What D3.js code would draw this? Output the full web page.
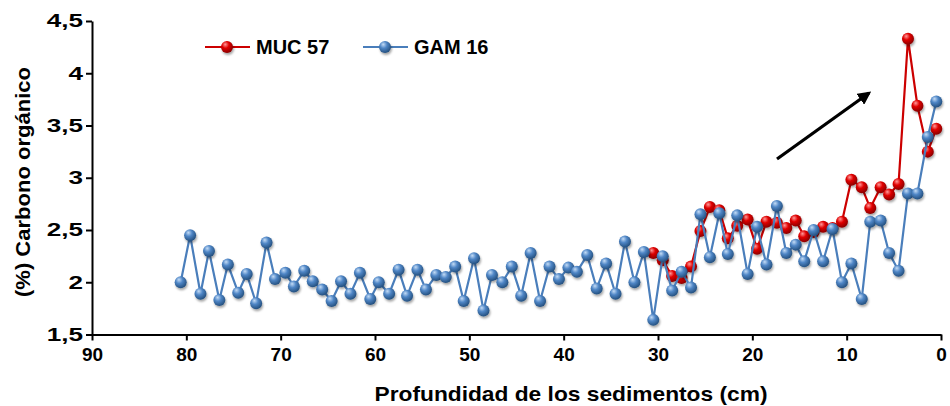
<!DOCTYPE html>
<html>
<head>
<meta charset="utf-8">
<script src="https://cdn.jsdelivr.net/npm/d3@7"></script>
<style>
  html, body { margin: 0; padding: 0; background: #fff; }
  svg { display: block; }
  text { font-family: "Liberation Sans", Arial, sans-serif; font-weight: bold; fill: #000; }
</style>
</head>
<body>
<svg id="chart" width="950" height="406"></svg>
<script>
// Sample depths (cm), shared by both cores
const depths = [
  80.6, 79.6, 78.5, 77.6, 76.5, 75.6, 74.5, 73.6, 72.6, 71.5,
  70.6, 69.5, 68.6, 67.5, 66.6, 65.6, 64.6, 63.6, 62.6, 61.6,
  60.5, 59.6, 58.5, 57.5, 56.6, 55.5, 54.6, 53.5, 52.5, 51.5,
  50.6, 49.5, 48.5, 47.6, 46.5, 45.5, 44.5, 43.5, 42.5, 41.5,
  40.5, 39.5, 38.6, 37.5, 36.5, 35.5, 34.5, 33.5, 32.5, 31.5,
  30.5, 29.5, 28.5, 27.5, 26.5, 25.5, 24.5, 23.5, 22.6, 21.6,
  20.5, 19.5, 18.5, 17.4, 16.4, 15.4, 14.5, 13.5, 12.5, 11.5,
  10.5, 9.5, 8.4, 7.5, 6.4, 5.5, 4.5, 3.5, 2.5, 1.4,
  0.5
];

// GAM 16 organic carbon (%)
const gam16 = [
  2.00, 2.45, 1.89, 2.30, 1.83, 2.17, 1.90, 2.08, 1.80, 2.38,
  2.03, 2.09, 1.96, 2.11, 2.01, 1.93, 1.82, 2.01, 1.89, 2.09,
  1.84, 2.00, 1.89, 2.12, 1.87, 2.12, 1.93, 2.07, 2.05, 2.15,
  1.82, 2.23, 1.73, 2.07, 2.00, 2.15, 1.87, 2.28, 1.82, 2.15,
  2.03, 2.14, 2.10, 2.26, 1.94, 2.18, 1.89, 2.39, 2.00, 2.29,
  1.64, 2.25, 1.92, 2.10, 1.95, 2.65, 2.24, 2.66, 2.27, 2.64,
  2.08, 2.53, 2.17, 2.73, 2.28, 2.36, 2.20, 2.50, 2.20, 2.51,
  2.00, 2.18, 1.84, 2.58, 2.59, 2.28, 2.11, 2.85, 2.85, 3.39,
  3.73
];

// MUC 57 organic carbon (%), upper 31 samples
const muc57 = [
  2.28, 2.21, 2.06, 2.04, 2.15, 2.49, 2.72, 2.69, 2.42, 2.54,
  2.60, 2.32, 2.58, 2.57, 2.52, 2.59, 2.44, 2.48, 2.53, 2.52,
  2.58, 2.98, 2.91, 2.71, 2.91, 2.84, 2.94, 4.33, 3.69, 3.25,
  3.47
];

const seriesNames = ["MUC 57", "GAM 16"];
const xTicks = [90, 80, 70, 60, 50, 40, 30, 20, 10, 0];
const yTicks = [1.5, 2, 2.5, 3, 3.5, 4, 4.5];

const xTitle = "Profundidad de los sedimentos (cm)";
const yTitle = "(%) Carbono orgánico";

const svg = d3.select("#chart");

const x = d3.scaleLinear().domain([90, 0]).range([92, 941]);
const y = d3.scaleLinear().domain([1.5, 4.5]).range([334.5, 21]);

// Shaded sphere gradients and soft shadow for markers
const defs = svg.append("defs");
function sphere(id, light, mid, dark) {
  const g = defs.append("radialGradient").attr("id", id)
    .attr("cx", "0.4").attr("cy", "0.35").attr("r", "0.65").attr("fx", "0.35").attr("fy", "0.28");
  g.append("stop").attr("offset", "0").attr("stop-color", light);
  g.append("stop").attr("offset", "0.45").attr("stop-color", mid);
  g.append("stop").attr("offset", "1").attr("stop-color", dark);
}
sphere("ballRed", "#ff9a9a", "#e00000", "#8a0000");
sphere("ballBlue", "#c4dcf6", "#4f86c6", "#24507f");
const sh = defs.append("filter").attr("id", "shadow")
  .attr("x", "-50%").attr("y", "-50%").attr("width", "200%").attr("height", "200%");
sh.append("feDropShadow").attr("dx", 1).attr("dy", 2).attr("stdDeviation", 1.3)
  .attr("flood-color", "#000").attr("flood-opacity", 0.35);

// Axes
const xAxis = d3.axisBottom(x).tickValues(xTicks).tickSize(6).tickSizeOuter(0)
  .tickFormat(d => String(d));
const gx = svg.append("g").attr("transform", `translate(0,${y(1.5)})`).call(xAxis);
gx.select(".domain").attr("stroke", "#000").attr("stroke-width", 2);
gx.selectAll(".tick line").attr("stroke", "#000").attr("stroke-width", 2);
gx.selectAll(".tick text").attr("y", 13).attr("dy", "0.71em")
  .style("font-size", "19px").style("font-family", "'Liberation Sans', Arial, sans-serif")
  .style("font-weight", "bold").attr("fill", "#000");

const yAxis = d3.axisLeft(y).tickValues(yTicks).tickSize(6).tickSizeOuter(0)
  .tickFormat(d => String(d).replace(".", ","));
const gy = svg.append("g").attr("transform", `translate(${x(90)},0)`).call(yAxis);
gy.select(".domain").attr("stroke", "#000").attr("stroke-width", 2);
gy.selectAll(".tick line").attr("stroke", "#000").attr("stroke-width", 2);
gy.selectAll(".tick text").attr("x", -9)
  .style("font-size", "18px").style("font-family", "'Liberation Sans', Arial, sans-serif")
  .style("font-weight", "bold").attr("fill", "#000")
  .each(function () {
    const w = this.getComputedTextLength();
    d3.select(this).attr("textLength", w * 1.45).attr("lengthAdjust", "spacingAndGlyphs");
  });

// Axis titles
svg.append("text").attr("x", 571).attr("y", 401).attr("text-anchor", "middle")
  .style("font-size", "21px").attr("textLength", 393).attr("lengthAdjust", "spacingAndGlyphs")
  .text(xTitle);
svg.append("text").attr("transform", "translate(30,182) rotate(-90)").attr("text-anchor", "middle")
  .style("font-size", "20px").attr("textLength", 230).attr("lengthAdjust", "spacingAndGlyphs")
  .text(yTitle);

// Series
const mucDepths = depths.slice(depths.length - muc57.length);
const series = [
  { name: seriesNames[0], color: "#cc0000", fill: "url(#ballRed)",
    pts: muc57.map((v, i) => [mucDepths[i], v]) },
  { name: seriesNames[1], color: "#4a7ebb", fill: "url(#ballBlue)",
    pts: gam16.map((v, i) => [depths[i], v]) }
];

const line = d3.line().x(d => x(d[0])).y(d => y(d[1]));

series.forEach(s => {
  const g = svg.append("g");
  g.append("path").attr("d", line(s.pts)).attr("fill", "none")
    .attr("stroke", s.color).attr("stroke-width", 2.2).attr("stroke-linejoin", "round");
  g.selectAll("circle").data(s.pts).join("circle")
    .attr("cx", d => x(d[0])).attr("cy", d => y(d[1])).attr("r", 6)
    .attr("fill", s.fill).attr("filter", "url(#shadow)");
});

// Legend
const legend = svg.append("g");
const legendX = [205, 363];
series.forEach((s, i) => {
  const lx = legendX[i], ly = 47;
  legend.append("line").attr("x1", lx).attr("x2", lx + 45).attr("y1", ly).attr("y2", ly)
    .attr("stroke", s.color).attr("stroke-width", 2.2);
  legend.append("circle").attr("cx", lx + 22).attr("cy", ly).attr("r", 6)
    .attr("fill", s.fill).attr("filter", "url(#shadow)");
  legend.append("text").attr("x", lx + 51).attr("y", ly + 7)
    .style("font-size", "20px").text(s.name);
});

// Arrow marking the recent increase
defs.append("marker").attr("id", "arrowHead").attr("viewBox", "0 0 10 10")
  .attr("refX", 8).attr("refY", 5).attr("markerWidth", 4.2).attr("markerHeight", 4.2)
  .attr("orient", "auto").attr("markerUnits", "strokeWidth")
  .append("path").attr("d", "M0,0 L10,5 L0,10 z").attr("fill", "#000");
svg.append("line").attr("x1", 777).attr("y1", 159).attr("x2", 869).attr("y2", 93)
  .attr("stroke", "#000").attr("stroke-width", 3.2).attr("marker-end", "url(#arrowHead)");
</script>
</body>
</html>
